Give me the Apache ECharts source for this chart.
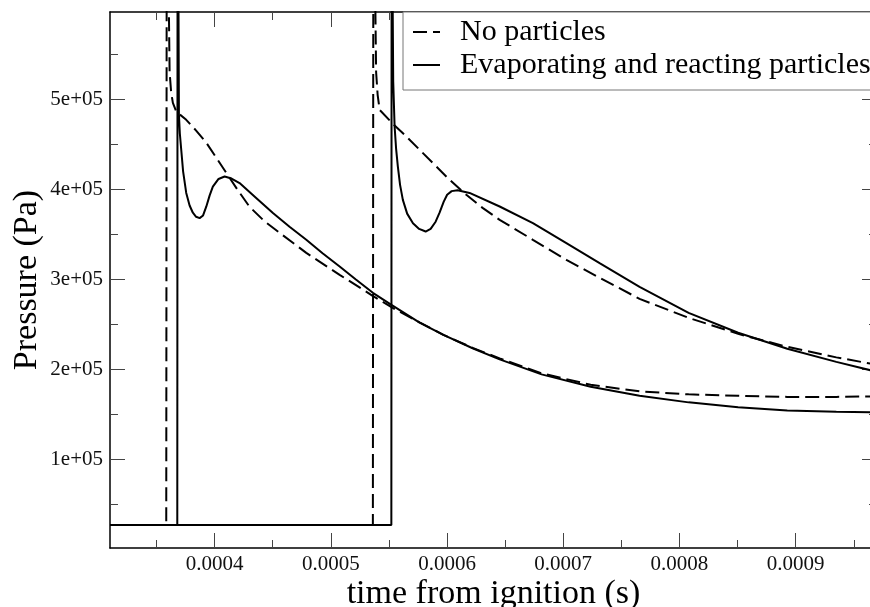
<!DOCTYPE html>
<html><head><meta charset="utf-8">
<script src="https://cdn.jsdelivr.net/npm/echarts@6/dist/echarts.min.js"></script>
<style>html,body{margin:0;padding:0;background:#fff}#c{width:870px;height:607px}</style>
</head><body><div id="c"></div>
<script>
// Axis tick values
const xMajorTicks = [0.0004, 0.0005, 0.0006, 0.0007, 0.0008, 0.0009];
const xMinorTicks = [0.00035, 0.00045, 0.00055, 0.00065, 0.00075, 0.00085, 0.00095];
const yMajorTicks = [100000, 200000, 300000, 400000, 500000];
const yMinorTicks = [50000, 150000, 250000, 350000, 450000, 550000];

// No particles, first ignition (time s, pressure Pa)
const noPartT1 = [0.00031, 0.0003584, 0.0003591, 0.0003602, 0.0003613, 0.0003626, 0.0003641, 0.0003670, 0.0003756, 0.0003843, 0.0003929, 0.0004015, 0.0004101, 0.0004198, 0.0004301, 0.0004430, 0.0004559, 0.0004789, 0.0005076, 0.0005360, 0.0005547, 0.0005764, 0.0005969, 0.0006220, 0.0006453, 0.0006814, 0.0007236, 0.0007657, 0.0008079, 0.0008505, 0.0008927, 0.0009350, 0.00097];
const noPartP1 = [27000, 27000, 1200000, 650000, 530000, 508000, 496000, 486400, 477200, 465000, 451700, 435000, 418300, 399400, 380600, 364400, 351700, 329400, 305000, 281700, 267200, 252200, 238300, 223900, 212200, 195600, 182800, 175600, 172200, 170600, 169400, 169400, 170000];

// No particles, second ignition
const noPartT2 = [0.00031, 0.0005362, 0.0005369, 0.0005379, 0.000539, 0.0005403, 0.000542, 0.0005534, 0.000565, 0.0005793, 0.0005908, 0.0006022, 0.0006166, 0.0006306, 0.0006453, 0.0006739, 0.0007027, 0.0007313, 0.0007657, 0.0008079, 0.0008505, 0.0008928, 0.000935, 0.00097];
const noPartP2 = [27000, 27000, 1200000, 650000, 530000, 505000, 488300, 472800, 458700, 440200, 425300, 410600, 393900, 379400, 366100, 343900, 321700, 301700, 278300, 257200, 239400, 225000, 213300, 205000];

// Evaporating and reacting particles, first ignition
const evapT1 = [0.00031, 0.0003679, 0.0003683, 0.0003688, 0.0003693, 0.0003701, 0.0003713, 0.0003729, 0.0003756, 0.0003785, 0.0003813, 0.0003841, 0.0003871, 0.0003901, 0.0003929, 0.0003957, 0.0003985, 0.0004034, 0.0004086, 0.0004146, 0.0004215, 0.0004353, 0.0004502, 0.0004645, 0.0004789, 0.0004929, 0.0005076, 0.0005213, 0.0005362, 0.0005515, 0.0005764, 0.0005969, 0.000622, 0.0006453, 0.0006814, 0.0007236, 0.0007657, 0.0008079, 0.0008505, 0.0008928, 0.000935, 0.00097];
const evapP1 = [27000, 27000, 1200000, 650000, 483000, 462000, 444000, 420000, 396000, 382000, 374000, 369500, 368000, 371000, 381000, 393000, 403000, 411500, 414200, 412000, 407000, 391000, 373600, 358500, 344000, 329000, 314200, 300000, 285000, 272200, 252000, 238300, 223400, 211000, 194400, 180600, 170600, 163300, 157800, 154400, 152800, 152200];

// Evaporating and reacting particles, second ignition
const evapT2 = [0.00031, 0.0005521, 0.0005525, 0.000553, 0.0005537, 0.0005549, 0.0005562, 0.0005577, 0.0005596, 0.000562, 0.0005657, 0.0005707, 0.000576, 0.0005816, 0.0005859, 0.0005902, 0.0005936, 0.0005971, 0.0006001, 0.000604, 0.0006091, 0.0006194, 0.0006453, 0.0006739, 0.0007027, 0.0007313, 0.0007657, 0.0008079, 0.0008505, 0.0008928, 0.000935, 0.00097];
const evapP2 = [27000, 27000, 1200000, 650000, 520000, 469800, 445000, 425300, 405000, 388300, 373000, 362400, 356000, 353100, 356000, 364000, 374000, 386000, 394000, 398000, 399000, 396000, 380900, 362400, 340200, 318000, 291700, 262800, 240600, 222800, 208300, 197200];

const NAME_NP = 'No particles';
const NAME_EP = 'Evaporating and reacting particles';
const FONT = "'Liberation Serif','Times New Roman',serif";
const DASH = [14, 6];

function pairs(t, p) { return t.map((v, i) => [v, p[i]]); }

const X_MIN = 0.00031, X_MAX = 0.00097;
const Y_MIN = 1500, Y_MAX = 597000;

function xAx(pos, ticks, len, showLine, showLabel, extra) {
  return Object.assign({
    type: 'value', position: pos, min: X_MIN, max: X_MAX, gridIndex: 0,
    axisLine: { show: showLine, onZero: false, lineStyle: { color: '#000', width: 1.5 } },
    axisTick: { show: true, inside: true, length: len, customValues: ticks, lineStyle: { color: '#444', width: 1 } },
    axisLabel: { show: showLabel, customValues: ticks, margin: 6, fontFamily: FONT, fontSize: 21, color: '#111',
      formatter: v => Number(v).toFixed(4) },
    splitLine: { show: false }
  }, extra || {});
}
function yAx(pos, ticks, len, showLine, showLabel, extra) {
  return Object.assign({
    type: 'value', position: pos, min: Y_MIN, max: Y_MAX, gridIndex: 0,
    axisLine: { show: showLine, onZero: false, lineStyle: { color: '#000', width: 1.5 } },
    axisTick: { show: true, inside: true, length: len, customValues: ticks, lineStyle: { color: '#444', width: 1 } },
    axisLabel: { show: showLabel, customValues: ticks, margin: 7, fontFamily: FONT, fontSize: 21, color: '#111',
      formatter: v => Math.round(v / 100000) + 'e+05' },
    splitLine: { show: false }
  }, extra || {});
}

function lineSeries(name, t, p, dashed) {
  return {
    name: name, type: 'line', xAxisIndex: 0, yAxisIndex: 0,
    data: pairs(t, p), symbol: 'none', showSymbol: false, clip: true,
    lineStyle: { color: '#000', width: 2, type: dashed ? DASH : 'solid', cap: 'butt' },
    itemStyle: { color: '#000' },
    emphasis: { disabled: true }, animation: false
  };
}

const chart = echarts.init(document.getElementById('c'), null, { renderer: 'canvas' });
chart.setOption({
  backgroundColor: '#fff',
  animation: false,
  grid: { left: 110, right: -7, top: 12, bottom: 59, containLabel: false, outerBoundsMode: 'none' },
  legend: {
    orient: 'vertical', left: 403, top: 12,
    padding: [5, 30, 10, 9], itemGap: 3, itemWidth: 27, itemHeight: 14,
    backgroundColor: '#fff', borderColor: '#777', borderWidth: 1, borderRadius: 0,
    selectedMode: false,
    itemStyle: { opacity: 0, borderWidth: 0 },
    textStyle: { fontFamily: FONT, fontSize: 30, color: '#000', lineHeight: 30, padding: [0, 0, 0, 15] },
    data: [NAME_NP, NAME_EP]
  },
  xAxis: [
    xAx('bottom', xMajorTicks, 15, true, true, {
      name: 'time from ignition (s)', nameLocation: 'middle', nameGap: 29, nameMoveOverlap: false,
      nameTextStyle: { fontFamily: FONT, fontSize: 34, color: '#000' }
    }),
    xAx('bottom', xMinorTicks, 8, false, false),
    xAx('top', xMajorTicks, 15, true, false),
    xAx('top', xMinorTicks, 8, false, false)
  ],
  yAxis: [
    yAx('left', yMajorTicks, 15, true, true, {
      name: 'Pressure (Pa)', nameLocation: 'middle', nameGap: 66, nameMoveOverlap: false,
      nameTextStyle: { fontFamily: FONT, fontSize: 34, color: '#000' }
    }),
    yAx('left', yMinorTicks, 8, false, false),
    yAx('right', yMajorTicks, 15, true, false),
    yAx('right', yMinorTicks, 8, false, false)
  ],
  series: [
    lineSeries(NAME_NP, noPartT1, noPartP1, true),
    lineSeries(NAME_NP, noPartT2, noPartP2, true),
    lineSeries(NAME_EP, evapT1, evapP1, false),
    lineSeries(NAME_EP, evapT2, evapP2, false)
  ]
});
</script></body></html>
